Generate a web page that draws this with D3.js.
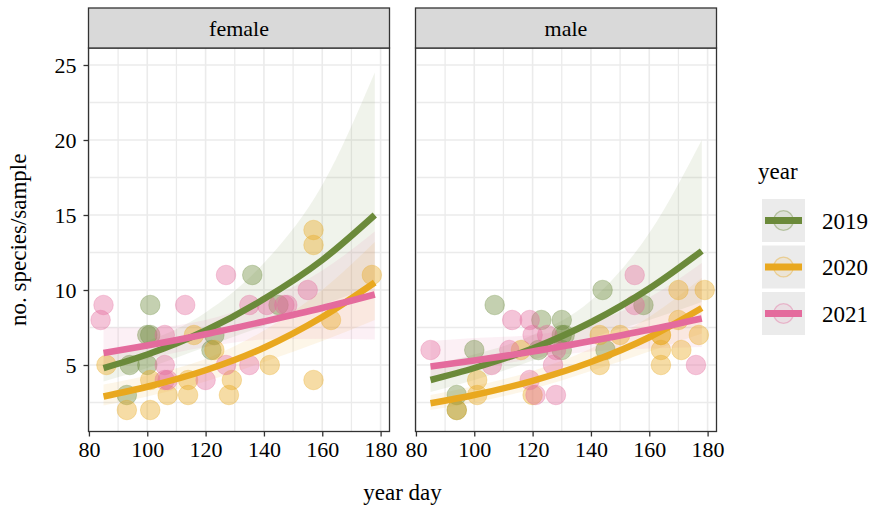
<!DOCTYPE html>
<html>
<head>
<meta charset="utf-8">
<script src="https://cdn.jsdelivr.net/npm/d3@7"></script>
<style>
  body { margin: 0; background: #fff; }
  text { font-family: "Liberation Serif", "DejaVu Serif", serif; fill: #000; }
</style>
</head>
<body>
<script>
var w = 871; // canvas width
var h = 506; // canvas height

var panels = ["female", "male"];
var years = ["2019", "2020", "2021"];
var colours = ["#6b8a3a", "#e9a81f", "#e46b9d"];
var xTicks = [80, 100, 120, 140, 160, 180];
var yTicks = [5, 10, 15, 20, 25];

// observed points [year day, no. species]
var female2019 = [[94,5],[93,3],[100,7],[101,7],[100,5],[101,9],[122,6],[123,7],[136,11],[145,9]];
var female2020 = [[86,5],[101,4],[93,2],[101,2],[107,3],[114,3],[114,4],[116,7],[123,6],[129,4],[128,3],[142,5],[157,4],[163,8],[157,13],[157,14],[177,11]];
var female2021 = [[85,9],[84,8],[106,7],[106,5],[106,4],[107,4],[113,9],[120,4],[127,11],[127,5],[135,9],[135,5],[141,9],[147,9],[148,9],[155,10]];
var male2019 = [[94,3],[94,2],[100,6],[107,9],[123,8],[130,8],[122,6],[130,6],[130,7],[131,7],[144,10],[145,6],[158,9]];
var male2020 = [[94,2],[101,4],[101,3],[116,6],[120,3],[143,7],[150,7],[143,5],[164,7],[164,7],[164,6],[164,5],[170,10],[179,10],[170,8],[171,6],[177,7]];
var male2021 = [[85,6],[113,8],[119,8],[120,7],[125,7],[112,6],[106,5],[127,5],[128,6],[119,4],[121,3],[128,3],[155,11],[155,9],[176,5]];

// fitted curves at these days
var fitDays = [85, 100, 120, 140, 160, 178];
var femaleFit2019 = [4.8, 5.7, 7.3, 9.4, 12.0, 15.0];
var femaleFit2020 = [2.9, 3.55, 4.65, 6.15, 8.2, 10.5];
var femaleFit2021 = [5.8, 6.3, 7.05, 7.9, 8.8, 9.7];
var maleFit2019 = [4.0, 4.8, 6.1, 7.85, 10.1, 12.6];
var maleFit2020 = [2.45, 3.0, 3.95, 5.2, 6.85, 8.8];
var maleFit2021 = [4.9, 5.3, 5.9, 6.6, 7.35, 8.1];

// confidence bands (lower, upper)
var femaleLo2019 = [3.9, 4.8, 6.2, 7.6, 9.0, 10.3];
var femaleHi2019 = [5.9, 6.6, 8.5, 11.8, 17.0, 24.5];
var femaleLo2020 = [2.3, 2.9, 3.9, 5.2, 6.6, 8.0];
var femaleHi2020 = [3.7, 4.3, 5.4, 7.3, 10.0, 13.2];
var femaleLo2021 = [4.6, 5.4, 6.2, 6.7, 6.75, 6.7];
var femaleHi2021 = [7.5, 7.5, 8.0, 9.3, 11.3, 13.9];
var maleLo2019 = [3.2, 4.0, 5.3, 6.8, 8.0, 9.2];
var maleHi2019 = [5.0, 5.7, 7.0, 9.3, 13.8, 20.0];
var maleLo2020 = [2.0, 2.5, 3.4, 4.6, 5.9, 7.1];
var maleHi2020 = [3.0, 3.6, 4.6, 6.1, 8.2, 10.8];
var maleLo2021 = [4.0, 4.7, 5.4, 5.9, 6.1, 6.2];
var maleHi2021 = [6.6, 6.8, 7.0, 7.8, 9.5, 11.8];

var points = { female: [female2019, female2020, female2021], male: [male2019, male2020, male2021] };
var fits = { female: [femaleFit2019, femaleFit2020, femaleFit2021], male: [maleFit2019, maleFit2020, maleFit2021] };
var los = { female: [femaleLo2019, femaleLo2020, femaleLo2021], male: [maleLo2019, maleLo2020, maleLo2021] };
var his = { female: [femaleHi2019, femaleHi2020, femaleHi2021], male: [maleHi2019, maleHi2020, maleHi2021] };

var panelLeft = [88.5, 415.5];
var panelW = 301;
var panelTop = 48, panelBottom = 431.5;
var stripTop = 8;

var svg = d3.select("body").append("svg")
    .attr("width", w)
    .attr("height", h);

var xScale = d3.scaleLinear().domain([79.85, 183.05]).range([0, panelW]);
var yScale = d3.scaleLinear().domain([0.567, 26.133]).range([panelBottom, panelTop]);

var xMinor = [90, 110, 130, 150, 170];
var yMinor = [2.5, 7.5, 12.5, 17.5, 22.5];

panels.forEach(function(p, pi) {
    var g = svg.append("g").attr("transform", "translate(" + panelLeft[pi] + ",0)");

    // grid lines
    g.selectAll(".vminor").data(xMinor).enter().append("line")
        .attr("x1", function(d) { return xScale(d); }).attr("x2", function(d) { return xScale(d); })
        .attr("y1", panelTop).attr("y2", panelBottom)
        .attr("stroke", "#ebebeb").attr("stroke-width", 1.3);
    g.selectAll(".hminor").data(yMinor).enter().append("line")
        .attr("x1", 0).attr("x2", panelW)
        .attr("y1", function(d) { return yScale(d); }).attr("y2", function(d) { return yScale(d); })
        .attr("stroke", "#ebebeb").attr("stroke-width", 1.3);
    g.selectAll(".vmajor").data(xTicks).enter().append("line")
        .attr("x1", function(d) { return xScale(d); }).attr("x2", function(d) { return xScale(d); })
        .attr("y1", panelTop).attr("y2", panelBottom)
        .attr("stroke", "#ebebeb").attr("stroke-width", 1.6);
    g.selectAll(".hmajor").data(yTicks).enter().append("line")
        .attr("x1", 0).attr("x2", panelW)
        .attr("y1", function(d) { return yScale(d); }).attr("y2", function(d) { return yScale(d); })
        .attr("stroke", "#ebebeb").attr("stroke-width", 1.6);

    // ribbons
    years.forEach(function(yr, i) {
        var rows = fitDays.map(function(d, k) { return [d, los[p][i][k], his[p][i][k]]; });
        g.append("path")
            .datum(rows)
            .attr("d", d3.area()
                .x(function(d) { return xScale(d[0]); })
                .y0(function(d) { return yScale(d[1]); })
                .y1(function(d) { return yScale(d[2]); })
                .curve(d3.curveMonotoneX))
            .attr("fill", colours[i])
            .attr("fill-opacity", 0.1);
    });

    // points
    years.forEach(function(yr, i) {
        g.selectAll(".pt" + i).data(points[p][i]).enter().append("circle")
            .attr("cx", function(d) { return xScale(d[0]); })
            .attr("cy", function(d) { return yScale(d[1]); })
            .attr("r", 9.8)
            .attr("fill", colours[i])
            .attr("fill-opacity", 0.4)
            .attr("stroke", colours[i])
            .attr("stroke-opacity", 0.3)
            .attr("stroke-width", 1);
    });

    // fitted lines
    years.forEach(function(yr, i) {
        var rows = fitDays.map(function(d, k) { return [d, fits[p][i][k]]; });
        g.append("path")
            .datum(rows)
            .attr("d", d3.line()
                .x(function(d) { return xScale(d[0]); })
                .y(function(d) { return yScale(d[1]); })
                .curve(d3.curveMonotoneX))
            .attr("fill", "none")
            .attr("stroke", colours[i])
            .attr("stroke-width", 6.5);
    });

    // panel border
    g.append("rect")
        .attr("x", 0).attr("y", panelTop)
        .attr("width", panelW).attr("height", panelBottom - panelTop)
        .attr("fill", "none").attr("stroke", "#333").attr("stroke-width", 1.3);

    // strip
    g.append("rect")
        .attr("x", 0).attr("y", stripTop)
        .attr("width", panelW).attr("height", panelTop - stripTop)
        .attr("fill", "#d9d9d9").attr("stroke", "#333").attr("stroke-width", 1.3);
    g.append("text")
        .attr("x", panelW / 2).attr("y", (stripTop + panelTop) / 2)
        .attr("dy", "0.35em")
        .attr("text-anchor", "middle")
        .style("font-size", "22px")
        .text(p);

    // x axis
    var xAxis = d3.axisBottom(xScale).tickValues(xTicks).tickSize(5).tickPadding(5);
    var xg = g.append("g")
        .attr("transform", "translate(0," + panelBottom + ")")
        .call(xAxis);
    xg.select(".domain").remove();
    xg.selectAll("line").attr("stroke", "#333").attr("stroke-width", 1.3);
    xg.selectAll("text").style("font-size", "22px").attr("fill", "#000")
        .style("font-family", "Liberation Serif, serif");

    // y axis on the first panel only
    if (pi === 0) {
        var yAxis = d3.axisLeft(yScale).tickValues(yTicks).tickSize(5).tickPadding(7);
        var yg = g.append("g").call(yAxis);
        yg.select(".domain").remove();
        yg.selectAll("line").attr("stroke", "#333").attr("stroke-width", 1.3);
        yg.selectAll("text").style("font-size", "22px").attr("fill", "#000")
            .style("font-family", "Liberation Serif, serif");
    }
});

// axis titles
svg.append("text")
    .attr("x", (panelLeft[0] + panelLeft[1] + panelW) / 2)
    .attr("y", 500)
    .attr("text-anchor", "middle")
    .style("font-size", "23px")
    .text("year day");

svg.append("text")
    .attr("transform", "rotate(-90)")
    .attr("x", -(panelTop + panelBottom) / 2)
    .attr("y", 26)
    .attr("text-anchor", "middle")
    .style("font-size", "23px")
    .text("no. species/sample");

// legend
var legend = svg.append("g").attr("transform", "translate(758,0)");
legend.append("text")
    .attr("x", 0).attr("y", 179)
    .style("font-size", "23px")
    .text("year");

var keys = legend.selectAll(".key").data(years).enter().append("g")
    .attr("transform", function(d, i) { return "translate(4," + (199 + i * 46.5) + ")"; });
keys.append("rect")
    .attr("width", 43).attr("height", 43)
    .attr("fill", "#ebebeb");
keys.append("circle")
    .attr("cx", 21.5).attr("cy", 21.5).attr("r", 9.8)
    .attr("fill", function(d, i) { return colours[i]; })
    .attr("fill-opacity", 0.1)
    .attr("stroke", function(d, i) { return colours[i]; })
    .attr("stroke-opacity", 0.4)
    .attr("stroke-width", 1.3);
keys.append("line")
    .attr("x1", 3).attr("x2", 40)
    .attr("y1", 21.5).attr("y2", 21.5)
    .attr("stroke", function(d, i) { return colours[i]; })
    .attr("stroke-width", 7);
keys.append("text")
    .attr("x", 60).attr("y", 21.5)
    .attr("dy", "0.35em")
    .style("font-size", "23px")
    .text(function(d) { return d; });
</script>
</body>
</html>
